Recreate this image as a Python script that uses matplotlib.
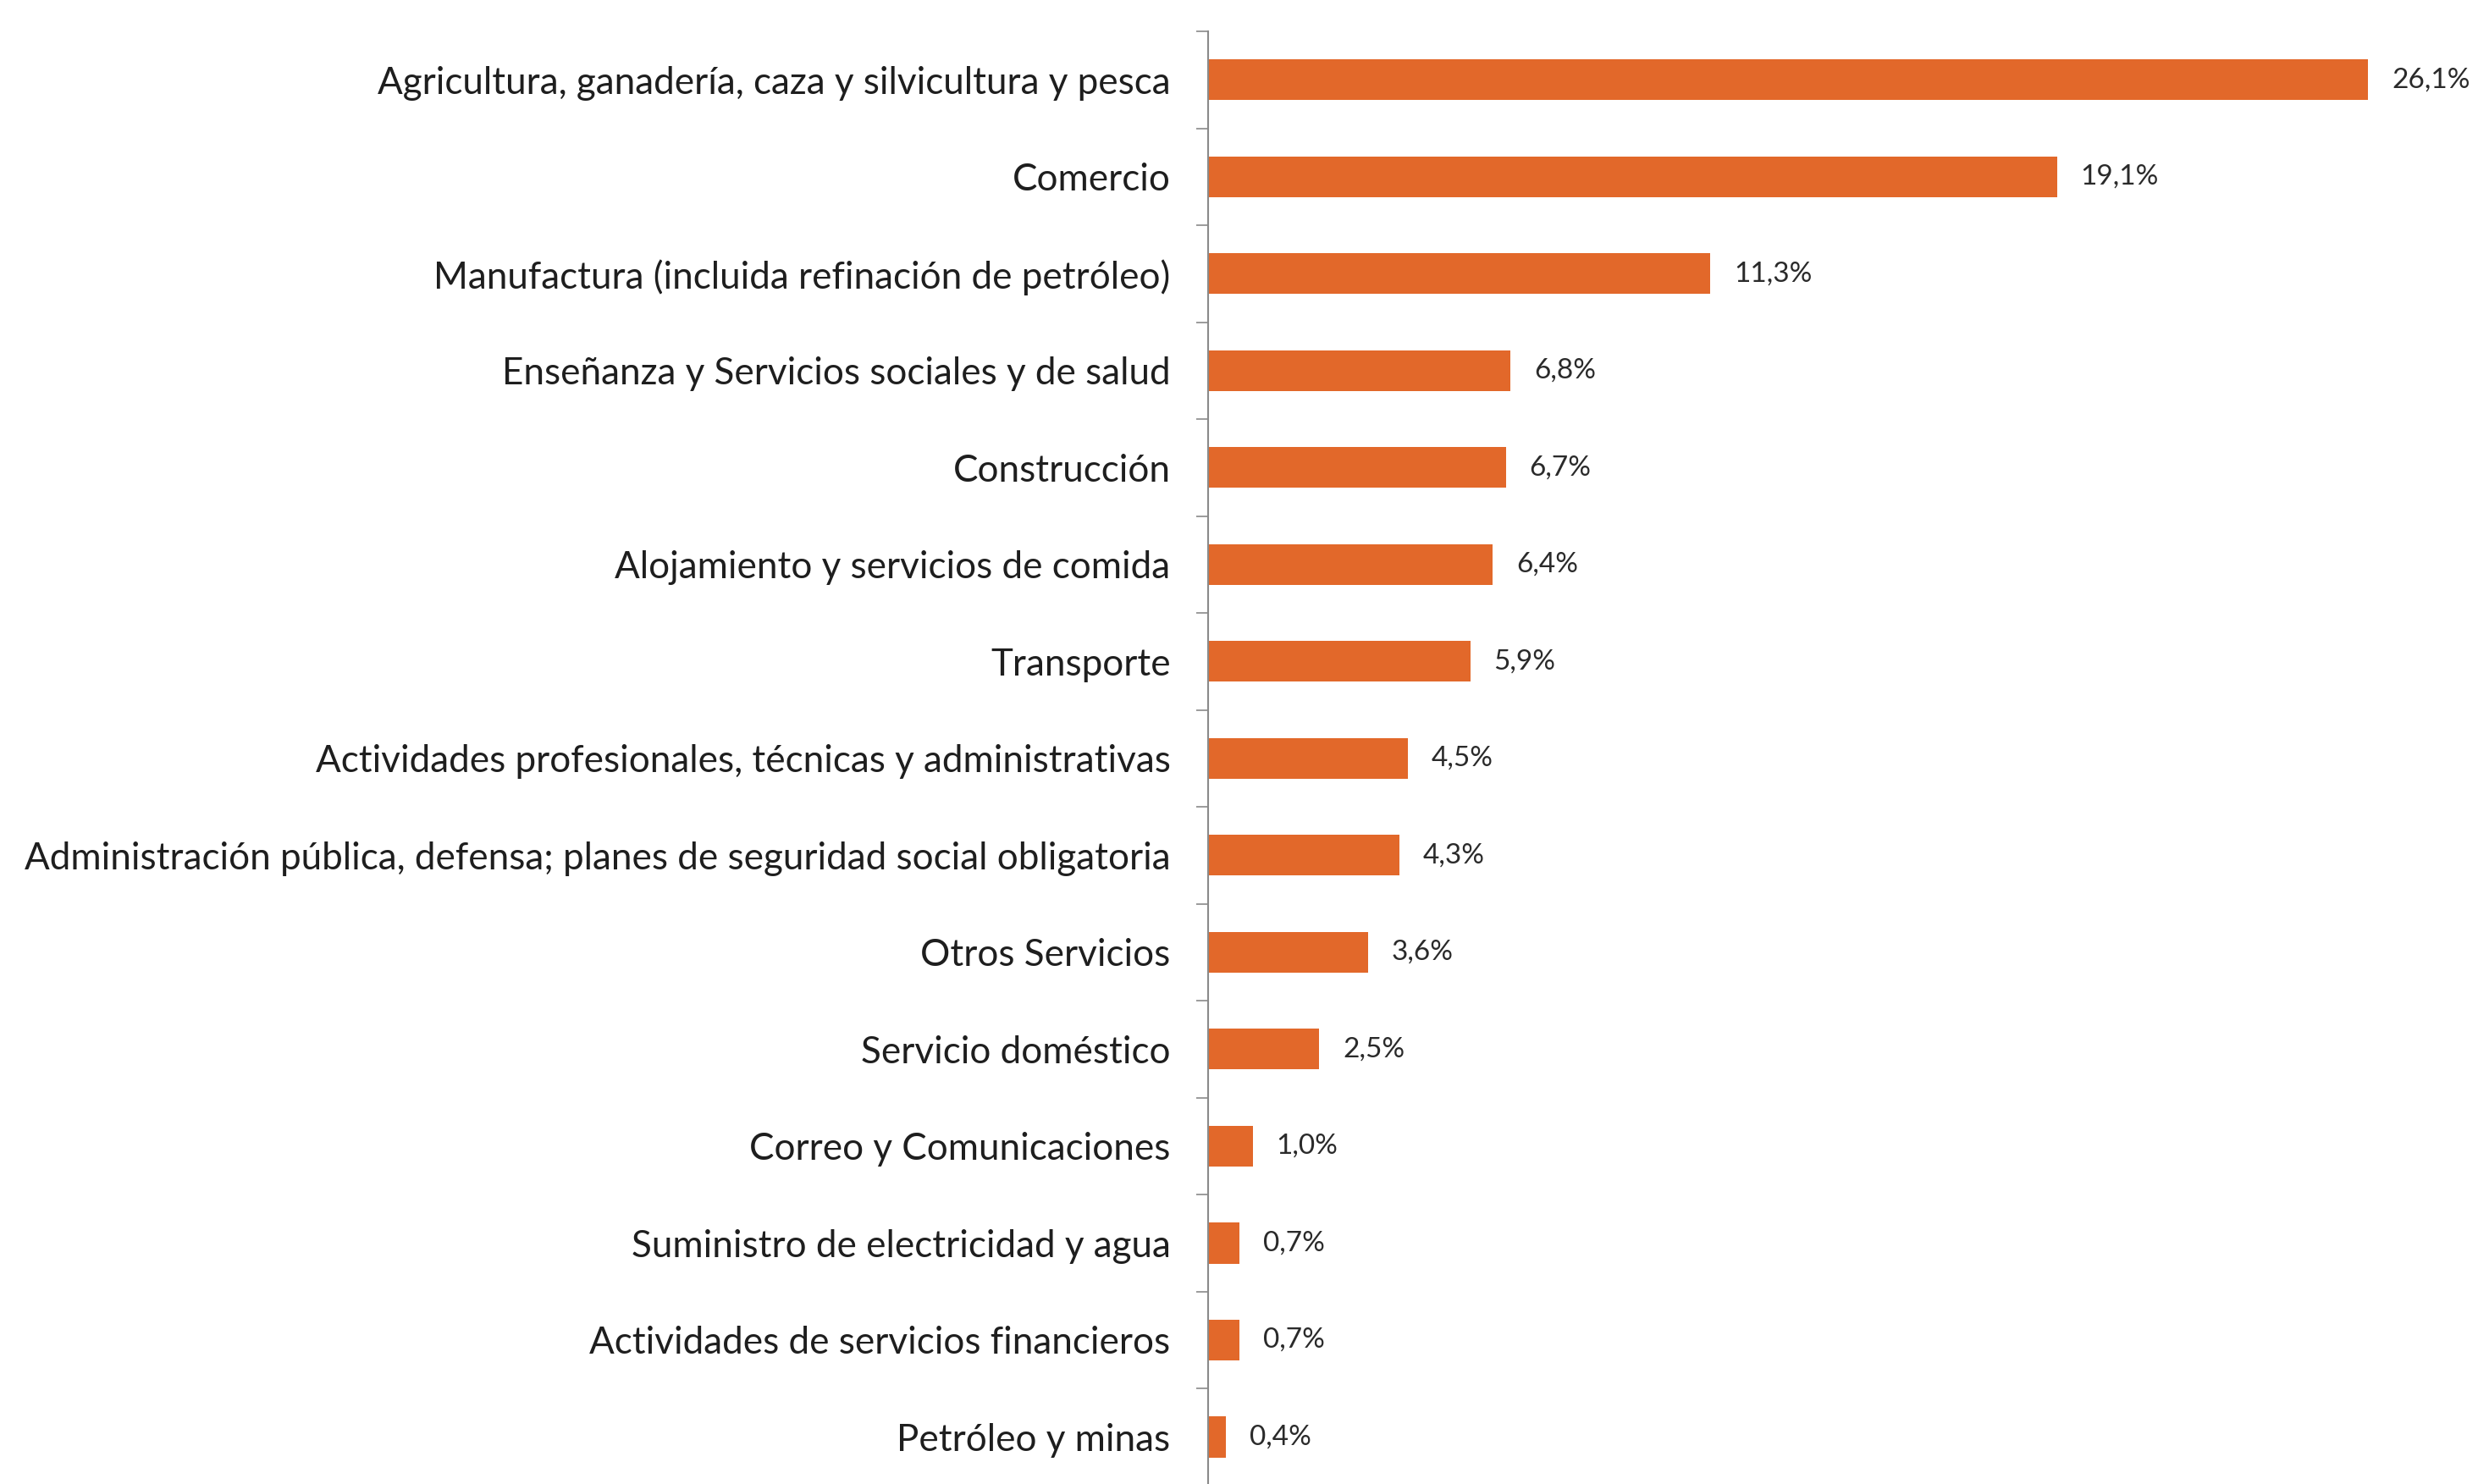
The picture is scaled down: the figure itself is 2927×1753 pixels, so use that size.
import numpy as np
import matplotlib.pyplot as plt
from matplotlib.ticker import FixedLocator

sectores = [
    "Agricultura, ganadería, caza y silvicultura y pesca",
    "Comercio",
    "Manufactura (incluida refinación de petróleo)",
    "Enseñanza y Servicios sociales y de salud",
    "Construcción",
    "Alojamiento y servicios de comida",
    "Transporte",
    "Actividades profesionales, técnicas y administrativas",
    "Administración pública, defensa; planes de seguridad social obligatoria",
    "Otros Servicios",
    "Servicio doméstico",
    "Correo y Comunicaciones",
    "Suministro de electricidad y agua",
    "Actividades de servicios financieros",
    "Petróleo y minas",
]
porcentajes = [26.1, 19.1, 11.3, 6.8, 6.7, 6.4, 5.9, 4.5, 4.3, 3.6, 2.5, 1.0, 0.7, 0.7, 0.4]
etiquetas = ["26,1%", "19,1%", "11,3%", "6,8%", "6,7%", "6,4%", "5,9%", "4,5%",
             "4,3%", "3,6%", "2,5%", "1,0%", "0,7%", "0,7%", "0,4%"]

plt.rcParams['font.family'] = ['Lato', 'DejaVu Sans']

W, H = 2927, 1753
fig = plt.figure(figsize=(W / 100, H / 100), dpi=100)
x0 = 1427 / W
top = 37 / H
ax = fig.add_axes([x0, -0.001, (W - 1427) / W, 1 - top + 0.001])

n = len(sectores)
y = np.arange(n)
ax.barh(y, porcentajes, height=0.42, color='#E2682A')
ax.set_ylim(n - 0.5, -0.5)
ax.set_xlim(0, (W - 1427) / 52.5)

for yi, v, t in zip(y, porcentajes, etiquetas):
    ax.annotate(t, (v, yi), xytext=(20, 0), textcoords='offset points',
                va='center', ha='left', fontsize=24, color='#2a2a2a')

ax.set_yticks(y)
ax.set_yticklabels(sectores, fontsize=31.7, color='#1e1e1e')
ax.tick_params(axis='y', which='major', length=0, pad=32)
ax.yaxis.set_minor_locator(FixedLocator(np.arange(-0.5, n, 1.0)))
ax.tick_params(axis='y', which='minor', length=10, width=1.2, color='#8a8a8a')
ax.set_xticks([])

for s in ['top', 'right', 'bottom']:
    ax.spines[s].set_visible(False)
ax.spines['left'].set_color('#8a8a8a')
ax.spines['left'].set_linewidth(1.5)

fig.savefig('out.png', dpi=100)
